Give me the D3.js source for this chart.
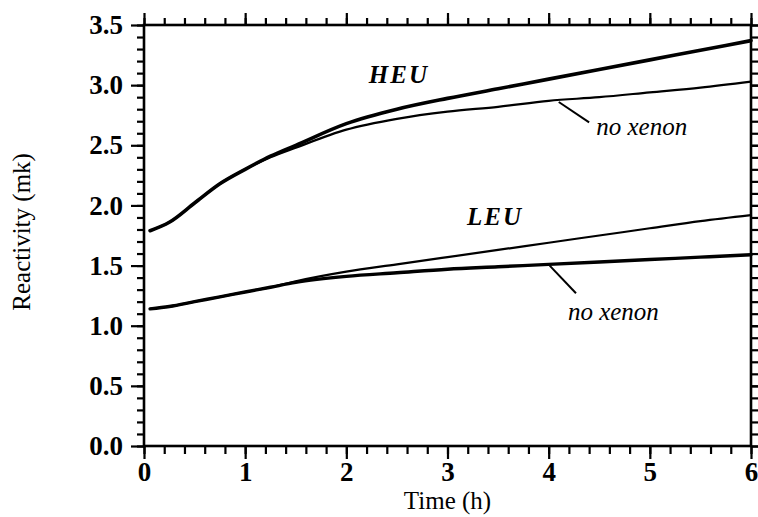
<!DOCTYPE html>
<meta charset="utf-8">
<html>
<head>
<style>
  body { margin: 0; background: #fff; }
  text { font-family: "Liberation Serif", "Times New Roman", serif; fill: #000; }
  .tick text { font-size: 27px; font-weight: bold; }
  .tick line, .domain { stroke: #000; stroke-width: 2.2px; }
  .axis-title { font-size: 25px; }
  .series-label { font-size: 25px; font-weight: bold; font-style: italic; letter-spacing: 2px; }
  .note { font-size: 25px; font-style: italic; }
  .frame { fill: none; stroke: #000; stroke-width: 2.6px; }
  .curve { fill: none; stroke: #000; stroke-linejoin: round; stroke-linecap: round; }
</style>
<script src="https://cdn.jsdelivr.net/npm/d3@7"></script>
</head>
<body>
<div id="chart"></div>
<script>
// data (time in h, reactivity in mk)
var time = [0.06, 0.25, 0.5, 0.75, 1.0, 1.25, 1.5, 2.0, 2.5, 3.0, 3.5, 4.0, 4.5, 5.0, 5.5, 6.0];
var heuXenon   = [1.79, 1.86, 2.02, 2.18, 2.30, 2.41, 2.50, 2.68, 2.80, 2.89, 2.97, 3.05, 3.13, 3.21, 3.29, 3.37];
var heuNoXenon = [1.79, 1.86, 2.02, 2.18, 2.30, 2.40, 2.48, 2.63, 2.72, 2.78, 2.82, 2.87, 2.90, 2.94, 2.98, 3.03];
var leuXenon   = [1.14, 1.16, 1.20, 1.24, 1.28, 1.32, 1.37, 1.45, 1.51, 1.57, 1.63, 1.69, 1.75, 1.81, 1.87, 1.92];
var leuNoXenon = [1.14, 1.16, 1.20, 1.24, 1.28, 1.32, 1.36, 1.41, 1.44, 1.47, 1.49, 1.51, 1.53, 1.55, 1.57, 1.59];

var xTickLabels = [0, 1, 2, 3, 4, 5, 6];
var yTickLabels = [0.0, 0.5, 1.0, 1.5, 2.0, 2.5, 3.0, 3.5];

var margin = { top: 25, right: 7, bottom: 71, left: 144 },
    width = 758 - margin.left - margin.right,
    height = 517 - margin.top - margin.bottom;

var x = d3.scaleLinear().domain([0, 6]).range([0, width]);
var y = d3.scaleLinear().domain([0, 3.5]).range([height, 0]);

var svg = d3.select("#chart").append("svg")
  .attr("width", 758)
  .attr("height", 517)
  .append("g")
  .attr("transform", "translate(" + margin.left + "," + margin.top + ")");

// minor ticks
function clean(g) { g.select(".domain").remove(); }
svg.append("g").attr("transform", "translate(0," + height + ")")
  .call(d3.axisBottom(x).ticks(30).tickSize(8).tickFormat("")).call(clean);
svg.append("g")
  .call(d3.axisTop(x).ticks(30).tickSize(7).tickFormat("")).call(clean);
svg.append("g")
  .call(d3.axisLeft(y).ticks(35).tickSize(7).tickFormat("")).call(clean);
svg.append("g").attr("transform", "translate(" + width + ",0)")
  .call(d3.axisRight(y).ticks(35).tickSize(7).tickFormat("")).call(clean);

// major ticks
svg.append("g").attr("transform", "translate(0," + height + ")")
  .call(d3.axisBottom(x).tickValues(xTickLabels).tickSize(13).tickPadding(3).tickFormat(d3.format("d")))
  .call(clean);
svg.append("g")
  .call(d3.axisTop(x).tickValues(xTickLabels).tickSize(12).tickFormat("")).call(clean);
svg.append("g")
  .call(d3.axisLeft(y).tickValues(yTickLabels).tickSize(13).tickPadding(8).tickFormat(d3.format(".1f")))
  .call(clean);
svg.append("g").attr("transform", "translate(" + width + ",0)")
  .call(d3.axisRight(y).tickValues(yTickLabels).tickSize(9).tickFormat("")).call(clean);

svg.selectAll(".tick text").attr("fill", "#000");

svg.append("rect").attr("class", "frame")
  .attr("width", width).attr("height", height);

// curves
var line = d3.line()
  .x(function (d) { return x(d[0]); })
  .y(function (d) { return y(d[1]); })
  .curve(d3.curveMonotoneX);

var series = [
  { values: heuXenon, w: 3.6 },
  { values: heuNoXenon, w: 2.2 },
  { values: leuXenon, w: 2.2 },
  { values: leuNoXenon, w: 3.4 }
];

svg.selectAll(".curve")
  .data(series)
  .enter()
  .append("path")
  .attr("class", "curve")
  .attr("stroke-width", function (d) { return d.w; })
  .attr("d", function (d) { return line(time.map(function (t, i) { return [t, d.values[i]]; })); });

// labels
svg.append("text").attr("class", "series-label")
  .attr("x", x(2.52)).attr("y", y(3.02)).attr("text-anchor", "middle").text("HEU");
svg.append("text").attr("class", "series-label")
  .attr("x", x(3.47)).attr("y", y(1.84)).attr("text-anchor", "middle").text("LEU");

var notes = [
  { from: [4.10, 2.86], to: [4.40, 2.69], text: [4.47, 2.585] },
  { from: [4.01, 1.50], to: [4.27, 1.27], text: [4.19, 1.05] }
];
notes.forEach(function (n) {
  svg.append("line")
    .attr("x1", x(n.from[0])).attr("y1", y(n.from[1]))
    .attr("x2", x(n.to[0])).attr("y2", y(n.to[1]))
    .attr("stroke", "#000").attr("stroke-width", 2);
  svg.append("text").attr("class", "note")
    .attr("x", x(n.text[0])).attr("y", y(n.text[1])).text("no xenon");
});

// axis titles
svg.append("text").attr("class", "axis-title")
  .attr("x", x(3)).attr("y", height + 63)
  .attr("text-anchor", "middle").text("Time (h)");
svg.append("text").attr("class", "axis-title")
  .attr("transform", "translate(" + (-margin.left + 30) + "," + (y(1.78)) + ") rotate(-90)")
  .attr("text-anchor", "middle").text("Reactivity (mk)");
</script>
</body>
</html>
